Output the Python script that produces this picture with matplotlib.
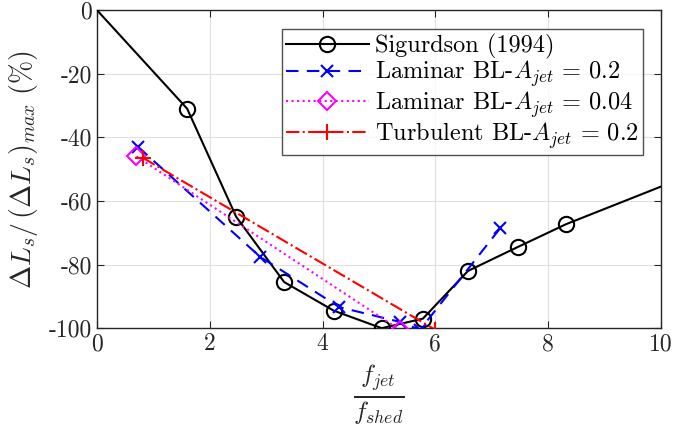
import matplotlib
matplotlib.use("Agg")
import matplotlib.pyplot as plt

plt.rcParams['font.family'] = 'serif'
plt.rcParams['font.serif'] = ['cmr10']
plt.rcParams['mathtext.fontset'] = 'cm'
plt.rcParams['axes.unicode_minus'] = False

# Sigurdson (1994)
sig_x = [0.0, 1.6, 2.47, 3.32, 4.2, 5.05, 5.78, 6.58, 7.46, 8.32, 10.0]
sig_y = [0.0, -31, -65, -85.5, -94.5, -100, -97, -82, -74.5, -67.3, -55.5]
# Laminar BL, A_jet = 0.2
lam02_x = [0.73, 2.89, 4.3, 5.37, 5.73, 7.15]
lam02_y = [-43, -77.5, -93.4, -98, -100.5, -68.6]
# Laminar BL, A_jet = 0.04
lam004_x = [0.7, 5.37]
lam004_y = [-46, -100.5]
# Turbulent BL, A_jet = 0.2
turb_x = [0.82, 6.0]
turb_y = [-46.5, -100.5]

xticks = [0, 2, 4, 6, 8, 10]
yticks = [0, -20, -40, -60, -80, -100]

fig = plt.figure(figsize=(6.73, 4.37), dpi=100)
ax = fig.add_axes([0.144, 0.249, 0.838, 0.728])

ax.plot(sig_x, sig_y, '-', color='black', lw=1.5, marker='o', ms=11,
        mfc='none', mew=1.5, markevery=list(range(1, len(sig_x) - 1)),
        label='Sigurdson (1994)', zorder=3)
ax.plot(lam02_x, lam02_y, '--', color='blue', lw=1.5, marker='x', ms=9,
        mew=1.5, dashes=(6, 4), label=r'Laminar BL-$A_{jet}\,=\,0.2$', zorder=4)
ax.plot(lam004_x, lam004_y, ':', color='magenta', lw=1.5, marker='D', ms=9,
        mfc='none', mew=1.5, label=r'Laminar BL-$A_{jet}\,=\,0.04$', zorder=4)
ax.plot(turb_x, turb_y, '-.', color='red', lw=1.5, marker='+', ms=11,
        mew=1.5, label=r'Turbulent BL-$A_{jet}\,=\,0.2$', zorder=4)

ax.set_xlim(0, 10)
ax.set_ylim(-100, 0)
ax.set_xticks(xticks)
ax.set_xticklabels([str(t) for t in xticks])
ax.set_yticks(yticks)
ax.set_yticklabels([str(t) for t in yticks])
ax.tick_params(direction='in', top=True, right=True, labelsize=17,
               length=5, color='#262626', labelcolor='#262626')
ax.grid(True, color='#e0e0e0', lw=0.8)
ax.set_axisbelow(True)
for s in ax.spines.values():
    s.set_color('#262626')
    s.set_linewidth(1.0)

ax.set_xlabel(r'$\frac{f_{jet}}{f_{shed}}$', fontsize=26, color='#262626', labelpad=6)
ax.set_ylabel(r'$\Delta L_s/\,(\Delta L_s)_{max}\ (\%)$', fontsize=20,
              color='#262626', labelpad=6)

leg = ax.legend(loc='upper right', bbox_to_anchor=(0.968, 0.94), fontsize=17.5,
                frameon=True, fancybox=False, edgecolor='#262626',
                handlelength=3.4, handletextpad=0.25, borderpad=0.18,
                labelspacing=0.0, borderaxespad=0)
leg.get_frame().set_linewidth(1.0)

fig.savefig('out.png', dpi=100)
